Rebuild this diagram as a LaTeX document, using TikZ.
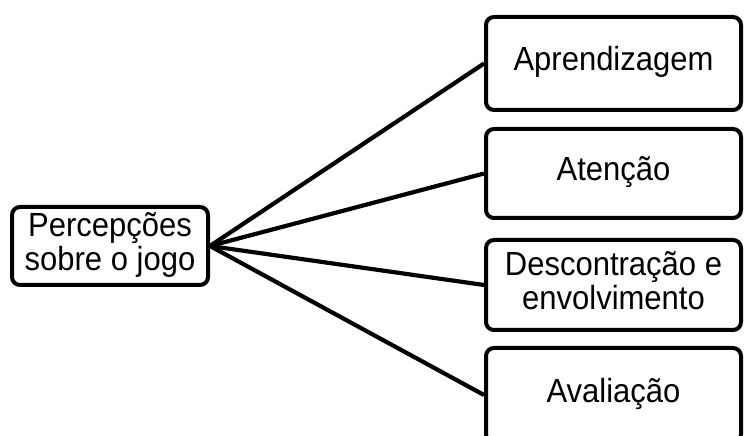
\documentclass[tikz,border=0pt]{standalone}
\usepackage{fontspec}
\usepackage{graphicx}
\setmainfont{Liberation Sans}
\newcommand{\vtxt}[1]{\scalebox{1}[1.08]{\begin{tabular}{@{}c@{}}#1\end{tabular}}}
\begin{document}
\begin{tikzpicture}[x=1pt,y=1pt,
  box/.style={draw=black,line width=4pt,rounded corners=8pt,fill=white,
    align=center,inner sep=0pt,font=\fontsize{31}{29.5}\selectfont},
  link/.style={draw=black,line width=4.2pt}]
\useasboundingbox (0,0) rectangle (745,436);
\clip (0,0) rectangle (745,436);
\fill[white] (0,0) rectangle (745,436);
\node[box,minimum width=196pt,minimum height=78pt] (L) at (110,190) {\vtxt{Percepções\\sobre o jogo}};
\node[box,minimum width=255pt,minimum height=93pt] (A) at (613.5,372.5) {\vtxt{Aprendizagem}};
\node[box,minimum width=255pt,minimum height=89pt] (B) at (613.5,262.5) {\vtxt{Atenção}};
\node[box,minimum width=255pt,minimum height=90pt] (C) at (613.5,151) {\vtxt{Descontração e\\envolvimento}};
\node[box,minimum width=255pt,minimum height=94pt] (D) at (613.5,41) {\vtxt{Avaliação}};
\foreach \t in {A,B,C,D}{\draw[link] (L.east) -- (\t.west);}
\end{tikzpicture}
\end{document}
